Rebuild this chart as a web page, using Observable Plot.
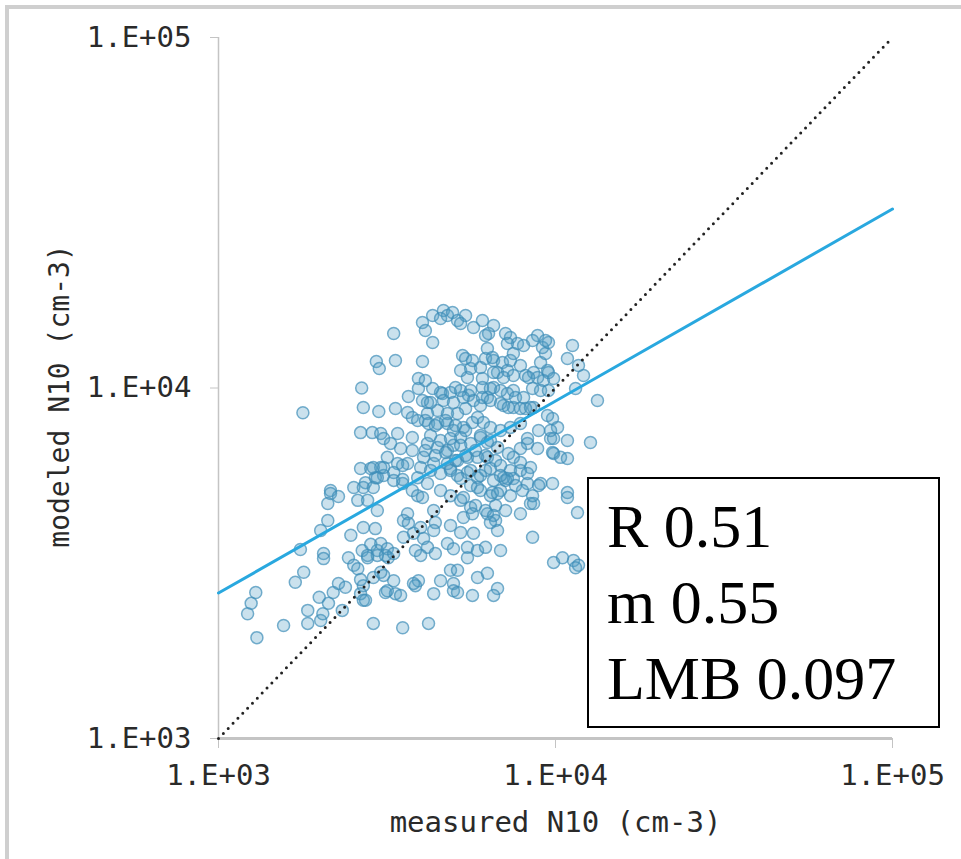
<!DOCTYPE html>
<html><head><meta charset="utf-8">
<script src="https://cdn.jsdelivr.net/npm/d3@7"></script>
<script src="https://cdn.jsdelivr.net/npm/@observablehq/plot@0.6"></script>
<style>
html,body{margin:0;padding:0;background:#fff;}
#wrap{position:relative;width:961px;height:859px;overflow:hidden;background:#fff;}
#frameTop{position:absolute;left:5px;top:5px;width:956px;height:4px;background:#cfcfcf;}
#frameLeft{position:absolute;left:5px;top:5px;width:4px;height:854px;background:#cfcfcf;}
#stats{position:absolute;left:587px;top:477px;width:353px;height:251px;box-sizing:border-box;border:2px solid #000;background:#fff;
  font-family:"Liberation Serif","Times New Roman",serif;font-size:62px;line-height:76px;color:#000;padding:9px 0 0 18px;white-space:nowrap;}
#chart{position:absolute;left:0;top:0;}
</style></head>
<body>
<div id="wrap">
  <div id="frameTop"></div><div id="frameLeft"></div>
  <div id="chart"></div>
  <div id="stats"></div>
</div>
<script>
// measured N10 vs modeled N10 (cm-3)
const samples = [
[1780,8500],[3310,14300],[3350,11980],[2940,11900],[3000,11360],[2660,10000],[2690,8800],[2990,8570],[2640,7460],[2860,7460],
[3030,7420],[3090,7180],[2640,5890],[2830,5890],[3030,5930],[3090,5630],[2920,5550],[2730,5370],[2520,5200],[2150,5100],
[4030,15380],[4110,14590],[4320,16100],[4650,16640],[4780,16100],[4950,16420],[4560,15790],[5120,15580],[5410,16100],[5230,15280],
[5710,14880],[6070,15580],[6550,15080],[6330,14300],[6200,14120],[4320,13490],[4030,11900],[3920,10640],[3920,9970],[3660,9460],
[3350,8740],[3640,8510],[3760,8240],[3900,8080],[4170,9090],[4320,9970],[4620,9650],[4880,9710],[5050,10030],[5230,9840],
[5520,9530],[5710,9210],[5990,8910],[5410,8740],[5120,8460],[4780,8460],[4470,8630],[4170,8460],[4200,7920],[4470,7920],
[4780,7920],[4980,7560],[5330,7720],[5670,7970],[5870,8240],[6110,7970],[6410,7720],[6870,7560],[7350,7720],[7870,7920],
[8610,8800],[8150,8740],[7500,8800],[7010,8910],[7200,9650],[7500,9840],[6870,9840],[6550,10030],[6280,9400],[6070,10030],
[6070,10640],[5480,10720],[5230,11220],[5300,12380],[5410,12140],[5600,11360],[5990,11440],[6200,12140],[6280,12970],[6550,11980],
[6960,11820],[6730,11070],[7200,11220],[7500,10860],[7350,11980],[7870,11590],[8150,10860],[8610,11070],[8850,10720],[9210,10500],
[9470,11220],[9030,11820],[9340,12540],[9150,13050],[9530,13490],[8850,14120],[8550,13660],[8040,13220],[7710,13400],[7350,13930],
[7110,14300],[7200,13400],[7500,12540],[8550,9970],[9030,9840],[9870,10640],[10850,12140],[11230,13220],[11470,9970],[12110,10860],
[11700,11590],[13320,9210],[12700,6990],[10850,7080],[10350,6340],[10850,6290],[9870,6500],[9670,7180],[10140,7720],[9800,8180],
[9470,8350],[8910,7560],[8850,6720],[8260,6950],[7870,6720],[7500,6340],[7350,5820],[7870,5820],[8430,5930],[9030,5340],
[9800,5340],[8260,5340],[7500,5520],[7010,5550],[6550,5450],[6200,5820],[5870,5550],[5480,5740],[5120,5630],[4880,5890],
[4560,5700],[4350,6090],[4060,6340],[3980,5930],[4170,6950],[4470,6770],[4780,6630],[4980,6860],[5230,7220],[5600,6950],
[5990,7220],[6280,6990],[6730,6770],[6280,6340],[5870,6340],[5480,6340],[5120,6210],[4780,6090],[3760,7220],[3400,7420],
[3240,6950],[3470,6720],[3760,6630],[3640,6090],[3400,6090],[3170,6340],[3310,5740],[3520,5340],[3900,5550],[4170,5340],
[1290,2610],[1250,2430],[1220,2270],[1300,1940],[1560,2100],[1840,2130],[1840,2320],[2010,2170],[2040,2270],[1990,2530],
[2120,2430],[2190,2610],[2270,2770],[2380,2700],[1690,2790],[1790,2980],[1750,3460],[2050,3370],[2050,3260],[2110,4190],
[2010,3920],[2150,5000],[2270,4900],[2110,4680],[2430,3280],[2470,3800],[2520,3120],[2590,3050],[2690,4000],[2670,3440],
[2770,3330],[2920,3970],[2960,3440],[3030,3600],[3170,3480],[3190,3280],[2690,2730],[2640,2590],[2690,2480],[2880,2880],
[3090,2920],[3310,2820],[3130,2610],[3350,2590],[3470,2560],[2880,2130],[3520,2070],[4200,2130],[2590,4780],[2770,4780],
[2880,5930],[3090,5930],[3310,5450],[3520,6010],[3520,5480],[2690,5200],[2880,5200],[2960,4470],[3760,5100],[3900,4930],
[4030,4870],[3640,4380],[3540,4190],[3660,4110],[3790,3850],[3540,3750],[3980,4000],[4350,4470],[4400,4130],[4350,3920],
[4060,3720],[4170,3510],[3980,3330],[4400,3370],[4780,3600],[4880,4050],[5230,3870],[5710,3850],[5480,3510],[5870,3440],
[6200,3510],[5480,3280],[4980,3480],[5330,4270],[5600,4560],[6280,4380],[6640,4190],[6730,3920],[6870,3440],[4880,3020],
[5120,3020],[4980,2770],[4980,2640],[5120,2610],[5870,2880],[6280,2960],[6730,2680],[6550,2560],[5670,2560],[4560,2820],
[4350,2590],[3920,2820],[3840,2730],[7870,4380],[8550,3750],[9870,3180],[10490,3280],[11310,3220],[11700,3120],[11470,3070],
[11620,4410],[10850,5030],[10850,4870],[8910,5270],[8430,4680],[7980,5100],[2330,2320],[2830,3580],[2770,3280],[2960,3330],
[3130,3330],[3310,3370],[2640,2840],[2730,2480],[3030,2980],[3170,2640],[3790,2770],[3840,3440],[2960,5550],
[9340,13660],[5670,11980],[6500,12220],[8320,10720],[9530,11070],[9530,9840],[6550,11070],[7010,10720],[6410,9970],[7610,9400],
[8040,9400],[5600,9840],[4560,9710],[4110,10500],[4030,9210],[4260,9090],[4650,9210],[4980,9090],[5330,9400],[6070,9400],
[6410,9210],[6870,9030],[7250,8800],[7870,8740],[8430,8800],
[4110,8080],[4400,7820],[4720,8080],[5050,7820],[5410,7560],[4260,7320],[4560,7080],[4880,7180],[5230,6860],[5990,7320],
[6410,7080],[4110,6630],[4400,6420],[4720,6550],[5050,6210],[5410,6420],[5790,6630],[6200,6420],[6640,6210],[4260,5820],
[4880,5820],[5230,5520],[5600,5820],[5990,5630],[6410,5890],[6870,6010],[7110,5450],[5600,5270],[5990,5100],[6410,4930],
[6870,5100],[7350,4930],[7610,5270],[5230,4780],[5790,4620],[6200,4470],[6640,4620],[7110,4470],[4560,5100],[4880,4930],
[5870,5200],[6500,5030],[5330,4870],[5670,4380],[6550,4330],[6410,4130],[9870,7180],[9800,6550],[9670,7560],[8260,5700],
[7200,5520],[6730,5000],[6870,5630],[7250,6500],[7870,6130],[8260,7180],[8610,4680],[8550,4930]
];
// 1:1 reference line and fitted regression line (measured, modeled)
const identityLine = [[1000,1000],[100000,100000]];
const fitLine = [[1000,2600],[100000,32400]];
// axis ticks
const tickValues = [1000, 10000, 100000];
const tickLabels = ["1.E+03", "1.E+04", "1.E+05"];
// texts
const xTitle = "measured N10 (cm-3)";
const yTitle = "modeled N10 (cm-3)";
const statLines = ["R 0.51", "m 0.55", "LMB 0.097"];

const fmt = d => tickLabels[tickValues.indexOf(d)];
const axisGray = "#c4c4c4";

const chart = Plot.plot({
  width: 961, height: 859,
  marginLeft: 218, marginRight: 69, marginTop: 37, marginBottom: 121,
  style: {fontFamily: "'DejaVu Sans Mono', monospace", fontSize: "29px", color: "#222", background: "transparent", overflow: "visible"},
  x: {type: "log", domain: [1000, 100000]},
  y: {type: "log", domain: [1000, 100000]},
  marks: [
    Plot.ruleX([1000], {stroke: axisGray, strokeWidth: 1.5}),
    Plot.ruleY([1000], {stroke: axisGray, strokeWidth: 3}),
    Plot.axisX(tickValues, {tickFormat: fmt, tickSize: 10, tickPadding: 16, stroke: axisGray, fill: "#2a2a2a", label: null, fontSize: 29}),
    Plot.axisY(tickValues, {tickFormat: fmt, tickSize: 8, tickPadding: 19, stroke: axisGray, fill: "#2a2a2a", label: null, fontSize: 29}),
    Plot.dot(samples, {x: d => d[0], y: d => d[1], r: 6, fill: "#4f9cc4", fillOpacity: 0.3, stroke: "#3d8db8", strokeOpacity: 0.7, strokeWidth: 1.5}),
    Plot.line(identityLine, {x: d => d[0], y: d => d[1], stroke: "#222", strokeWidth: 3, strokeDasharray: "0,7", strokeLinecap: "round"}),
    Plot.line(fitLine, {x: d => d[0], y: d => d[1], stroke: "#29a8df", strokeWidth: 3}),
    Plot.text([xTitle], {frameAnchor: "bottom", dy: 84, lineAnchor: "middle", textAnchor: "middle", fill: "#2a2a2a", fontSize: 29}),
    Plot.text([yTitle], {frameAnchor: "left", dx: -158, dy: 8, rotate: -90, lineAnchor: "middle", textAnchor: "middle", fill: "#2a2a2a", fontSize: 28})
  ]
});
document.getElementById("chart").appendChild(chart);
document.getElementById("stats").innerHTML = statLines.map(s => `<div>${s}</div>`).join("");
</script>
</body></html>
